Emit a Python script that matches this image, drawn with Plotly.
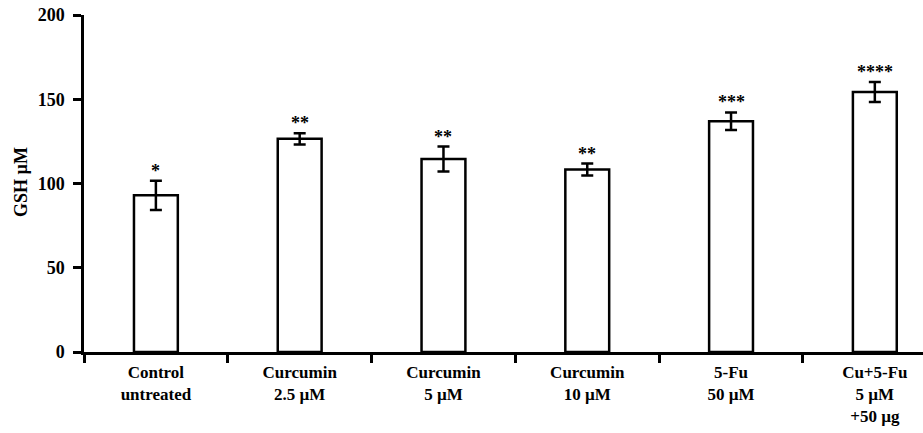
import plotly.graph_objects as go

categories = ["Control<br>untreated", "Curcumin<br>2.5 µM", "Curcumin<br>5 µM",
              "Curcumin<br>10 µM", "5-Fu<br>50 µM", "Cu+5-Fu<br>5 µM<br>+50 µg"]
gsh_values = [93.0, 126.5, 114.5, 108.3, 137.0, 154.3]
gsh_errors = [8.7, 3.3, 7.4, 3.5, 5.2, 6.0]
significance = ["*", "**", "**", "**", "***", "****"]
y_ticks = [0, 50, 100, 150, 200]

FONT = "Liberation Serif"

fig = go.Figure()
fig.add_trace(go.Bar(
    x=categories, y=gsh_values, width=0.305,
    marker=dict(color="white", line=dict(color="black", width=2.5)),
    error_y=dict(type="data", array=gsh_errors, visible=True,
                 color="black", thickness=2.5, width=6),
    showlegend=False,
))

for c, v, e, s in zip(categories, gsh_values, gsh_errors, significance):
    fig.add_annotation(x=c, y=v + e, text=s, showarrow=False,
                       xanchor="center", yanchor="bottom", yshift=-2,
                       font=dict(family=FONT, size=18, color="black", weight="bold"))

fig.add_annotation(xref="paper", yref="paper", x=-0.075, y=0.505,
                   text="GSH µM", textangle=-90, showarrow=False,
                   xanchor="center", yanchor="middle",
                   font=dict(family=FONT, size=18, color="black", weight="bold"))

fig.update_layout(
    width=923, height=433,
    margin=dict(l=84, r=0, t=15, b=81, autoexpand=False),
    plot_bgcolor="white", paper_bgcolor="white",
    font=dict(family=FONT, size=16, color="black"),
)
fig.update_xaxes(
    type="category", range=[-0.5, 5.335], automargin=False,
    showline=True, linecolor="black", linewidth=2.5,
    ticks="outside", tickson="boundaries", ticklen=8, tickwidth=2.5, tickcolor="black",
    showgrid=False, zeroline=False, ticklabelstandoff=3,
    tickfont=dict(family=FONT, size=17, color="black", weight="bold"),
)
fig.update_yaxes(
    range=[0, 200], tickvals=y_ticks, automargin=False,
    showline=True, linecolor="black", linewidth=2.5,
    ticks="outside", ticklen=8, tickwidth=2.5, tickcolor="black",
    showgrid=False, zeroline=False, ticklabelstandoff=5,
    tickfont=dict(family=FONT, size=18, color="black", weight="bold"),
)

fig.write_html("out.html", config={"displayModeBar": False},
               post_script="document.body.style.margin='0';document.body.style.overflow='hidden';")
